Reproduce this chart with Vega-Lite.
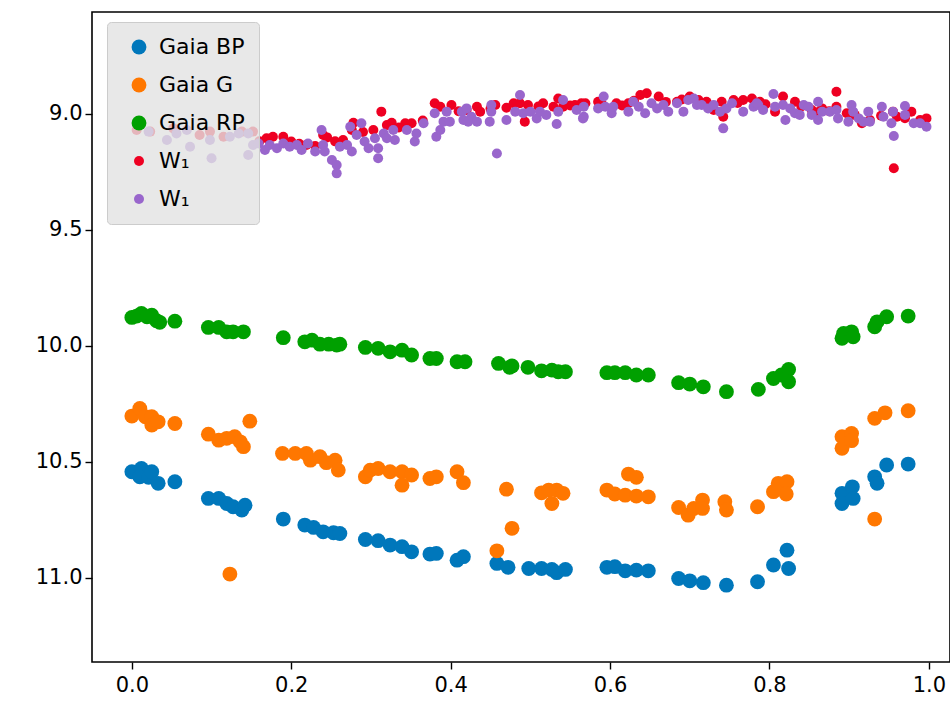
{
  "$schema": "https://vega.github.io/schema/vega-lite/v6.json",
  "width": 858,
  "height": 650,
  "autosize": "none",
  "padding": {"left": 92, "top": 12, "right": 0, "bottom": 41},
  "background": "white",
  "config": {
    "view": {"stroke": "black", "strokeWidth": 1.6},
    "axis": {"domain": false, "grid": false, "ticks": true, "tickColor": "black", "tickWidth": 1.4, "tickSize": 7, "labelFont": "DejaVu Sans", "labelFontSize": 21, "labelColor": "black", "title": null}
  },
  "data": {"values": [
{"band":"BP","phase":0.000,"mag":10.544},{"band":"BP","phase":0.012,"mag":10.530},{"band":"BP","phase":0.010,"mag":10.566},{"band":"BP","phase":0.021,"mag":10.568},{"band":"BP","phase":0.025,"mag":10.544},{"band":"BP","phase":0.033,"mag":10.594},{"band":"BP","phase":0.054,"mag":10.587},{"band":"BP","phase":0.096,"mag":10.659},{"band":"BP","phase":0.109,"mag":10.659},{"band":"BP","phase":0.119,"mag":10.681},{"band":"BP","phase":0.127,"mag":10.695},{"band":"BP","phase":0.138,"mag":10.709},{"band":"BP","phase":0.142,"mag":10.688},{"band":"BP","phase":0.190,"mag":10.748},{"band":"BP","phase":0.217,"mag":10.774},{"band":"BP","phase":0.228,"mag":10.784},{"band":"BP","phase":0.240,"mag":10.803},{"band":"BP","phase":0.253,"mag":10.807},{"band":"BP","phase":0.261,"mag":10.810},{"band":"BP","phase":0.293,"mag":10.836},{"band":"BP","phase":0.309,"mag":10.841},{"band":"BP","phase":0.324,"mag":10.860},{"band":"BP","phase":0.339,"mag":10.867},{"band":"BP","phase":0.351,"mag":10.889},{"band":"BP","phase":0.374,"mag":10.899},{"band":"BP","phase":0.382,"mag":10.896},{"band":"BP","phase":0.408,"mag":10.925},{"band":"BP","phase":0.416,"mag":10.910},{"band":"BP","phase":0.458,"mag":10.939},{"band":"BP","phase":0.472,"mag":10.956},{"band":"BP","phase":0.498,"mag":10.961},{"band":"BP","phase":0.514,"mag":10.961},{"band":"BP","phase":0.527,"mag":10.965},{"band":"BP","phase":0.533,"mag":10.979},{"band":"BP","phase":0.544,"mag":10.965},{"band":"BP","phase":0.596,"mag":10.956},{"band":"BP","phase":0.606,"mag":10.953},{"band":"BP","phase":0.619,"mag":10.971},{"band":"BP","phase":0.633,"mag":10.968},{"band":"BP","phase":0.648,"mag":10.971},{"band":"BP","phase":0.686,"mag":11.004},{"band":"BP","phase":0.700,"mag":11.014},{"band":"BP","phase":0.717,"mag":11.022},{"band":"BP","phase":0.746,"mag":11.033},{"band":"BP","phase":0.785,"mag":11.018},{"band":"BP","phase":0.805,"mag":10.946},{"band":"BP","phase":0.822,"mag":10.882},{"band":"BP","phase":0.824,"mag":10.961},{"band":"BP","phase":0.891,"mag":10.637},{"band":"BP","phase":0.891,"mag":10.681},{"band":"BP","phase":0.904,"mag":10.609},{"band":"BP","phase":0.905,"mag":10.659},{"band":"BP","phase":0.932,"mag":10.566},{"band":"BP","phase":0.935,"mag":10.594},{"band":"BP","phase":0.947,"mag":10.515},{"band":"BP","phase":0.974,"mag":10.511},
{"band":"G","phase":0.000,"mag":10.304},{"band":"G","phase":0.010,"mag":10.271},{"band":"G","phase":0.017,"mag":10.307},{"band":"G","phase":0.025,"mag":10.307},{"band":"G","phase":0.025,"mag":10.343},{"band":"G","phase":0.033,"mag":10.329},{"band":"G","phase":0.054,"mag":10.336},{"band":"G","phase":0.148,"mag":10.326},{"band":"G","phase":0.096,"mag":10.382},{"band":"G","phase":0.109,"mag":10.408},{"band":"G","phase":0.119,"mag":10.400},{"band":"G","phase":0.129,"mag":10.393},{"band":"G","phase":0.136,"mag":10.415},{"band":"G","phase":0.140,"mag":10.436},{"band":"G","phase":0.123,"mag":10.985},{"band":"G","phase":0.189,"mag":10.465},{"band":"G","phase":0.205,"mag":10.465},{"band":"G","phase":0.219,"mag":10.465},{"band":"G","phase":0.224,"mag":10.494},{"band":"G","phase":0.236,"mag":10.479},{"band":"G","phase":0.244,"mag":10.505},{"band":"G","phase":0.255,"mag":10.494},{"band":"G","phase":0.259,"mag":10.537},{"band":"G","phase":0.293,"mag":10.566},{"band":"G","phase":0.299,"mag":10.537},{"band":"G","phase":0.309,"mag":10.530},{"band":"G","phase":0.324,"mag":10.544},{"band":"G","phase":0.339,"mag":10.544},{"band":"G","phase":0.339,"mag":10.602},{"band":"G","phase":0.351,"mag":10.558},{"band":"G","phase":0.374,"mag":10.573},{"band":"G","phase":0.382,"mag":10.566},{"band":"G","phase":0.408,"mag":10.544},{"band":"G","phase":0.416,"mag":10.591},{"band":"G","phase":0.470,"mag":10.619},{"band":"G","phase":0.477,"mag":10.788},{"band":"G","phase":0.458,"mag":10.885},{"band":"G","phase":0.514,"mag":10.635},{"band":"G","phase":0.523,"mag":10.623},{"band":"G","phase":0.527,"mag":10.681},{"band":"G","phase":0.533,"mag":10.623},{"band":"G","phase":0.541,"mag":10.637},{"band":"G","phase":0.596,"mag":10.623},{"band":"G","phase":0.606,"mag":10.640},{"band":"G","phase":0.623,"mag":10.554},{"band":"G","phase":0.633,"mag":10.568},{"band":"G","phase":0.619,"mag":10.645},{"band":"G","phase":0.633,"mag":10.649},{"band":"G","phase":0.648,"mag":10.652},{"band":"G","phase":0.686,"mag":10.698},{"band":"G","phase":0.698,"mag":10.731},{"band":"G","phase":0.705,"mag":10.702},{"band":"G","phase":0.716,"mag":10.666},{"band":"G","phase":0.716,"mag":10.702},{"band":"G","phase":0.744,"mag":10.673},{"band":"G","phase":0.746,"mag":10.709},{"band":"G","phase":0.785,"mag":10.695},{"band":"G","phase":0.805,"mag":10.630},{"band":"G","phase":0.811,"mag":10.594},{"band":"G","phase":0.822,"mag":10.587},{"band":"G","phase":0.821,"mag":10.640},{"band":"G","phase":0.891,"mag":10.393},{"band":"G","phase":0.891,"mag":10.443},{"band":"G","phase":0.903,"mag":10.379},{"band":"G","phase":0.903,"mag":10.410},{"band":"G","phase":0.932,"mag":10.314},{"band":"G","phase":0.945,"mag":10.290},{"band":"G","phase":0.974,"mag":10.281},{"band":"G","phase":0.932,"mag":10.748},
{"band":"RP","phase":0.000,"mag":9.879},{"band":"RP","phase":0.006,"mag":9.873},{"band":"RP","phase":0.012,"mag":9.862},{"band":"RP","phase":0.019,"mag":9.876},{"band":"RP","phase":0.025,"mag":9.869},{"band":"RP","phase":0.031,"mag":9.893},{"band":"RP","phase":0.035,"mag":9.900},{"band":"RP","phase":0.054,"mag":9.895},{"band":"RP","phase":0.096,"mag":9.922},{"band":"RP","phase":0.109,"mag":9.922},{"band":"RP","phase":0.119,"mag":9.941},{"band":"RP","phase":0.127,"mag":9.941},{"band":"RP","phase":0.140,"mag":9.941},{"band":"RP","phase":0.190,"mag":9.966},{"band":"RP","phase":0.217,"mag":9.984},{"band":"RP","phase":0.226,"mag":9.977},{"band":"RP","phase":0.236,"mag":9.994},{"band":"RP","phase":0.247,"mag":9.994},{"band":"RP","phase":0.257,"mag":9.998},{"band":"RP","phase":0.261,"mag":9.994},{"band":"RP","phase":0.293,"mag":10.008},{"band":"RP","phase":0.309,"mag":10.012},{"band":"RP","phase":0.324,"mag":10.027},{"band":"RP","phase":0.339,"mag":10.020},{"band":"RP","phase":0.351,"mag":10.041},{"band":"RP","phase":0.374,"mag":10.056},{"band":"RP","phase":0.382,"mag":10.056},{"band":"RP","phase":0.408,"mag":10.070},{"band":"RP","phase":0.418,"mag":10.070},{"band":"RP","phase":0.460,"mag":10.077},{"band":"RP","phase":0.474,"mag":10.094},{"band":"RP","phase":0.477,"mag":10.088},{"band":"RP","phase":0.497,"mag":10.094},{"band":"RP","phase":0.514,"mag":10.109},{"band":"RP","phase":0.527,"mag":10.106},{"band":"RP","phase":0.535,"mag":10.113},{"band":"RP","phase":0.544,"mag":10.113},{"band":"RP","phase":0.596,"mag":10.117},{"band":"RP","phase":0.606,"mag":10.117},{"band":"RP","phase":0.619,"mag":10.117},{"band":"RP","phase":0.633,"mag":10.127},{"band":"RP","phase":0.648,"mag":10.127},{"band":"RP","phase":0.686,"mag":10.160},{"band":"RP","phase":0.700,"mag":10.166},{"band":"RP","phase":0.717,"mag":10.178},{"band":"RP","phase":0.746,"mag":10.199},{"band":"RP","phase":0.786,"mag":10.189},{"band":"RP","phase":0.805,"mag":10.142},{"band":"RP","phase":0.815,"mag":10.127},{"band":"RP","phase":0.824,"mag":10.103},{"band":"RP","phase":0.824,"mag":10.156},{"band":"RP","phase":0.891,"mag":9.969},{"band":"RP","phase":0.893,"mag":9.948},{"band":"RP","phase":0.903,"mag":9.941},{"band":"RP","phase":0.905,"mag":9.962},{"band":"RP","phase":0.932,"mag":9.919},{"band":"RP","phase":0.935,"mag":9.898},{"band":"RP","phase":0.947,"mag":9.876},{"band":"RP","phase":0.974,"mag":9.873},
{"band":"W1a","phase":0.006,"mag":9.071},{"band":"W1a","phase":0.023,"mag":9.078},{"band":"W1a","phase":0.052,"mag":9.064},{"band":"W1a","phase":0.085,"mag":9.093},{"band":"W1a","phase":0.098,"mag":9.078},{"band":"W1a","phase":0.115,"mag":9.100},{"band":"W1a","phase":0.138,"mag":9.078},{"band":"W1a","phase":0.152,"mag":9.078},{"band":"W1a","phase":0.160,"mag":9.120},{"band":"W1a","phase":0.169,"mag":9.107},{"band":"W1a","phase":0.177,"mag":9.100},{"band":"W1a","phase":0.190,"mag":9.100},{"band":"W1a","phase":0.200,"mag":9.121},{"band":"W1a","phase":0.210,"mag":9.130},{"band":"W1a","phase":0.219,"mag":9.136},{"band":"W1a","phase":0.230,"mag":9.140},{"band":"W1a","phase":0.240,"mag":9.093},{"band":"W1a","phase":0.245,"mag":9.103},{"band":"W1a","phase":0.255,"mag":9.120},{"band":"W1a","phase":0.265,"mag":9.114},{"band":"W1a","phase":0.276,"mag":9.071},{"band":"W1a","phase":0.278,"mag":9.040},{"band":"W1a","phase":0.290,"mag":9.080},{"band":"W1a","phase":0.303,"mag":9.071},{"band":"W1a","phase":0.313,"mag":8.992},{"band":"W1a","phase":0.320,"mag":9.050},{"band":"W1a","phase":0.326,"mag":9.040},{"band":"W1a","phase":0.335,"mag":9.060},{"band":"W1a","phase":0.343,"mag":9.042},{"band":"W1a","phase":0.351,"mag":9.042},{"band":"W1a","phase":0.365,"mag":9.030},{"band":"W1a","phase":0.380,"mag":8.956},{"band":"W1a","phase":0.387,"mag":8.971},{"band":"W1a","phase":0.401,"mag":8.963},{"band":"W1a","phase":0.410,"mag":8.990},{"band":"W1a","phase":0.420,"mag":8.985},{"band":"W1a","phase":0.433,"mag":8.971},{"band":"W1a","phase":0.437,"mag":8.992},{"band":"W1a","phase":0.450,"mag":8.980},{"band":"W1a","phase":0.456,"mag":8.963},{"band":"W1a","phase":0.470,"mag":8.975},{"band":"W1a","phase":0.479,"mag":8.956},{"band":"W1a","phase":0.487,"mag":8.956},{"band":"W1a","phase":0.497,"mag":8.963},{"band":"W1a","phase":0.493,"mag":9.035},{"band":"W1a","phase":0.510,"mag":8.970},{"band":"W1a","phase":0.516,"mag":8.956},{"band":"W1a","phase":0.529,"mag":8.971},{"band":"W1a","phase":0.535,"mag":8.935},{"band":"W1a","phase":0.541,"mag":8.971},{"band":"W1a","phase":0.550,"mag":8.965},{"band":"W1a","phase":0.556,"mag":8.963},{"band":"W1a","phase":0.564,"mag":8.956},{"band":"W1a","phase":0.569,"mag":8.956},{"band":"W1a","phase":0.585,"mag":8.949},{"band":"W1a","phase":0.590,"mag":8.960},{"band":"W1a","phase":0.608,"mag":8.956},{"band":"W1a","phase":0.615,"mag":8.965},{"band":"W1a","phase":0.623,"mag":8.956},{"band":"W1a","phase":0.630,"mag":8.945},{"band":"W1a","phase":0.638,"mag":8.920},{"band":"W1a","phase":0.646,"mag":8.913},{"band":"W1a","phase":0.661,"mag":8.927},{"band":"W1a","phase":0.670,"mag":8.950},{"band":"W1a","phase":0.684,"mag":8.949},{"band":"W1a","phase":0.690,"mag":8.940},{"band":"W1a","phase":0.700,"mag":8.927},{"band":"W1a","phase":0.711,"mag":8.942},{"band":"W1a","phase":0.721,"mag":8.949},{"band":"W1a","phase":0.730,"mag":8.985},{"band":"W1a","phase":0.740,"mag":8.949},{"band":"W1a","phase":0.742,"mag":9.014},{"band":"W1a","phase":0.755,"mag":8.942},{"band":"W1a","phase":0.760,"mag":8.955},{"band":"W1a","phase":0.767,"mag":8.942},{"band":"W1a","phase":0.778,"mag":8.935},{"band":"W1a","phase":0.788,"mag":8.949},{"band":"W1a","phase":0.795,"mag":8.960},{"band":"W1a","phase":0.807,"mag":8.992},{"band":"W1a","phase":0.817,"mag":8.927},{"band":"W1a","phase":0.832,"mag":8.949},{"band":"W1a","phase":0.840,"mag":8.970},{"band":"W1a","phase":0.853,"mag":8.985},{"band":"W1a","phase":0.860,"mag":8.995},{"band":"W1a","phase":0.866,"mag":8.978},{"band":"W1a","phase":0.875,"mag":8.990},{"band":"W1a","phase":0.884,"mag":8.906},{"band":"W1a","phase":0.884,"mag":8.971},{"band":"W1a","phase":0.897,"mag":8.999},{"band":"W1a","phase":0.907,"mag":9.006},{"band":"W1a","phase":0.916,"mag":9.042},{"band":"W1a","phase":0.926,"mag":9.028},{"band":"W1a","phase":0.940,"mag":9.010},{"band":"W1a","phase":0.955,"mag":8.992},{"band":"W1a","phase":0.960,"mag":9.014},{"band":"W1a","phase":0.970,"mag":9.020},{"band":"W1a","phase":0.978,"mag":8.992},{"band":"W1a","phase":0.989,"mag":9.028},{"band":"W1a","phase":0.997,"mag":9.021},{"band":"W1a","phase":0.956,"mag":9.236},
{"band":"W1b","phase":0.021,"mag":9.078},{"band":"W1b","phase":0.044,"mag":9.114},{"band":"W1b","phase":0.056,"mag":9.086},{"band":"W1b","phase":0.069,"mag":9.071},{"band":"W1b","phase":0.073,"mag":9.143},{"band":"W1b","phase":0.098,"mag":9.114},{"band":"W1b","phase":0.100,"mag":9.193},{"band":"W1b","phase":0.123,"mag":9.100},{"band":"W1b","phase":0.134,"mag":9.086},{"band":"W1b","phase":0.146,"mag":9.179},{"band":"W1b","phase":0.146,"mag":9.086},{"band":"W1b","phase":0.152,"mag":9.136},{"band":"W1b","phase":0.159,"mag":9.129},{"band":"W1b","phase":0.167,"mag":9.157},{"band":"W1b","phase":0.173,"mag":9.136},{"band":"W1b","phase":0.182,"mag":9.150},{"band":"W1b","phase":0.190,"mag":9.129},{"band":"W1b","phase":0.198,"mag":9.143},{"band":"W1b","phase":0.207,"mag":9.136},{"band":"W1b","phase":0.213,"mag":9.157},{"band":"W1b","phase":0.221,"mag":9.129},{"band":"W1b","phase":0.230,"mag":9.164},{"band":"W1b","phase":0.238,"mag":9.071},{"band":"W1b","phase":0.240,"mag":9.136},{"band":"W1b","phase":0.242,"mag":9.164},{"band":"W1b","phase":0.251,"mag":9.200},{"band":"W1b","phase":0.257,"mag":9.222},{"band":"W1b","phase":0.257,"mag":9.258},{"band":"W1b","phase":0.261,"mag":9.143},{"band":"W1b","phase":0.270,"mag":9.136},{"band":"W1b","phase":0.276,"mag":9.164},{"band":"W1b","phase":0.274,"mag":9.057},{"band":"W1b","phase":0.282,"mag":9.093},{"band":"W1b","phase":0.288,"mag":9.042},{"band":"W1b","phase":0.292,"mag":9.121},{"band":"W1b","phase":0.297,"mag":9.150},{"band":"W1b","phase":0.305,"mag":9.107},{"band":"W1b","phase":0.309,"mag":9.150},{"band":"W1b","phase":0.309,"mag":9.193},{"band":"W1b","phase":0.316,"mag":9.086},{"band":"W1b","phase":0.320,"mag":9.107},{"band":"W1b","phase":0.328,"mag":9.071},{"band":"W1b","phase":0.330,"mag":9.114},{"band":"W1b","phase":0.345,"mag":9.071},{"band":"W1b","phase":0.355,"mag":9.121},{"band":"W1b","phase":0.357,"mag":9.086},{"band":"W1b","phase":0.366,"mag":9.042},{"band":"W1b","phase":0.380,"mag":8.999},{"band":"W1b","phase":0.382,"mag":9.100},{"band":"W1b","phase":0.387,"mag":9.071},{"band":"W1b","phase":0.391,"mag":9.035},{"band":"W1b","phase":0.395,"mag":8.992},{"band":"W1b","phase":0.399,"mag":9.035},{"band":"W1b","phase":0.414,"mag":8.992},{"band":"W1b","phase":0.416,"mag":9.028},{"band":"W1b","phase":0.420,"mag":8.978},{"band":"W1b","phase":0.426,"mag":9.014},{"band":"W1b","phase":0.422,"mag":9.035},{"band":"W1b","phase":0.433,"mag":9.035},{"band":"W1b","phase":0.449,"mag":9.035},{"band":"W1b","phase":0.451,"mag":8.963},{"band":"W1b","phase":0.451,"mag":8.992},{"band":"W1b","phase":0.458,"mag":9.172},{"band":"W1b","phase":0.470,"mag":9.028},{"band":"W1b","phase":0.481,"mag":8.992},{"band":"W1b","phase":0.487,"mag":8.920},{"band":"W1b","phase":0.491,"mag":8.999},{"band":"W1b","phase":0.500,"mag":8.992},{"band":"W1b","phase":0.508,"mag":9.021},{"band":"W1b","phase":0.512,"mag":8.992},{"band":"W1b","phase":0.520,"mag":9.006},{"band":"W1b","phase":0.533,"mag":9.045},{"band":"W1b","phase":0.541,"mag":8.942},{"band":"W1b","phase":0.535,"mag":8.992},{"band":"W1b","phase":0.558,"mag":8.985},{"band":"W1b","phase":0.567,"mag":9.014},{"band":"W1b","phase":0.567,"mag":8.971},{"band":"W1b","phase":0.566,"mag":9.021},{"band":"W1b","phase":0.585,"mag":8.978},{"band":"W1b","phase":0.592,"mag":8.927},{"band":"W1b","phase":0.594,"mag":8.971},{"band":"W1b","phase":0.602,"mag":8.999},{"band":"W1b","phase":0.604,"mag":8.971},{"band":"W1b","phase":0.623,"mag":8.992},{"band":"W1b","phase":0.629,"mag":8.949},{"band":"W1b","phase":0.636,"mag":8.971},{"band":"W1b","phase":0.644,"mag":8.999},{"band":"W1b","phase":0.652,"mag":8.956},{"band":"W1b","phase":0.659,"mag":8.978},{"band":"W1b","phase":0.667,"mag":8.963},{"band":"W1b","phase":0.673,"mag":8.992},{"band":"W1b","phase":0.684,"mag":8.956},{"band":"W1b","phase":0.692,"mag":8.992},{"band":"W1b","phase":0.698,"mag":8.942},{"band":"W1b","phase":0.705,"mag":8.935},{"band":"W1b","phase":0.709,"mag":8.963},{"band":"W1b","phase":0.715,"mag":8.963},{"band":"W1b","phase":0.723,"mag":8.978},{"band":"W1b","phase":0.730,"mag":8.963},{"band":"W1b","phase":0.738,"mag":8.992},{"band":"W1b","phase":0.742,"mag":9.064},{"band":"W1b","phase":0.746,"mag":8.978},{"band":"W1b","phase":0.753,"mag":8.956},{"band":"W1b","phase":0.767,"mag":8.992},{"band":"W1b","phase":0.780,"mag":8.971},{"band":"W1b","phase":0.786,"mag":8.963},{"band":"W1b","phase":0.784,"mag":8.956},{"band":"W1b","phase":0.792,"mag":8.985},{"band":"W1b","phase":0.805,"mag":8.916},{"band":"W1b","phase":0.807,"mag":8.971},{"band":"W1b","phase":0.817,"mag":8.963},{"band":"W1b","phase":0.820,"mag":9.028},{"band":"W1b","phase":0.826,"mag":8.978},{"band":"W1b","phase":0.832,"mag":8.999},{"band":"W1b","phase":0.838,"mag":9.006},{"band":"W1b","phase":0.843,"mag":8.963},{"band":"W1b","phase":0.849,"mag":8.971},{"band":"W1b","phase":0.853,"mag":9.006},{"band":"W1b","phase":0.861,"mag":8.949},{"band":"W1b","phase":0.861,"mag":9.028},{"band":"W1b","phase":0.866,"mag":8.992},{"band":"W1b","phase":0.876,"mag":8.992},{"band":"W1b","phase":0.884,"mag":8.985},{"band":"W1b","phase":0.886,"mag":9.021},{"band":"W1b","phase":0.899,"mag":9.035},{"band":"W1b","phase":0.903,"mag":8.963},{"band":"W1b","phase":0.905,"mag":8.992},{"band":"W1b","phase":0.912,"mag":9.021},{"band":"W1b","phase":0.918,"mag":9.035},{"band":"W1b","phase":0.924,"mag":8.992},{"band":"W1b","phase":0.926,"mag":9.035},{"band":"W1b","phase":0.941,"mag":8.971},{"band":"W1b","phase":0.943,"mag":9.014},{"band":"W1b","phase":0.953,"mag":9.042},{"band":"W1b","phase":0.955,"mag":8.992},{"band":"W1b","phase":0.956,"mag":9.097},{"band":"W1b","phase":0.970,"mag":8.968},{"band":"W1b","phase":0.970,"mag":9.006},{"band":"W1b","phase":0.981,"mag":9.042},{"band":"W1b","phase":0.989,"mag":9.042},{"band":"W1b","phase":0.997,"mag":9.057}
  ]},
  "mark": {"type": "point", "filled": true, "opacity": 1, "strokeWidth": 0, "clip": true},
  "encoding": {
    "x": {"field": "phase", "type": "quantitative", "scale": {"domain": [-0.05, 1.0265], "nice": false, "zero": false},
      "axis": {"values": [0, 0.2, 0.4, 0.6, 0.8, 1.0], "format": ".1f", "labelPadding": 5}},
    "y": {"field": "mag", "type": "quantitative", "scale": {"domain": [8.5625, 11.364], "nice": false, "zero": false, "reverse": true},
      "axis": {"values": [9, 9.5, 10, 10.5, 11], "format": ".1f", "labelPadding": 3}},
    "color": {"field": "band", "type": "nominal",
      "scale": {"domain": ["BP", "G", "RP", "W1a", "W1b"], "range": ["#0077bb", "#ff7700", "#00a000", "#ee0022", "#9966cc"]},
      "legend": {"orient": "none", "legendX": 15, "legendY": 10, "title": null, "fillColor": "rgba(226,226,226,0.8)", "strokeColor": "#cccccc", "cornerRadius": 4, "padding": 14,
        "labelFont": "DejaVu Sans", "labelFontSize": 22, "labelColor": "black", "rowPadding": 16, "symbolOffset": 7, "labelOffset": 9, "symbolStrokeWidth": 0, "symbolType": "circle",
        "labelExpr": "datum.value == 'BP' ? 'Gaia BP' : datum.value == 'G' ? 'Gaia G' : datum.value == 'RP' ? 'Gaia RP' : 'W₁'",
        "encode": {"labels": {"enter": {"fontStyle": {"signal": "datum.label == 'W₁' ? 'italic' : 'normal'"}}, "update": {"fontStyle": {"signal": "datum.label == 'W₁' ? 'italic' : 'normal'"}}}}}},
    "size": {"field": "band", "type": "nominal",
      "scale": {"type": "ordinal", "domain": ["BP", "G", "RP", "W1a", "W1b"], "range": [220, 220, 220, 100, 100]}}
  }
}
